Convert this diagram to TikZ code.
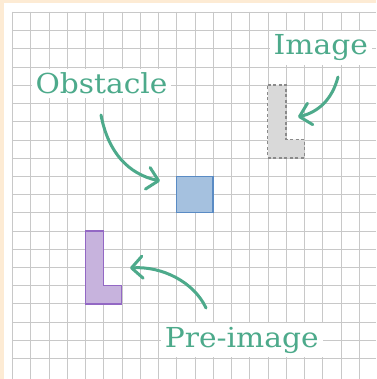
\documentclass[tikz,border=0pt]{standalone}
\usepackage{fontspec}
\setmainfont{DejaVu Serif}
\newfontfamily\lblfont[FakeStretch=1.08]{DejaVu Serif}
\usetikzlibrary{arrows.meta}
\definecolor{peach}{HTML}{FDEBD4}
\definecolor{gridc}{HTML}{C8C8C8}
\definecolor{teal}{HTML}{4DAA8B}
\definecolor{sqfill}{HTML}{A5C1DF}
\definecolor{sqline}{HTML}{5A8BC4}
\definecolor{pfill}{HTML}{C7B3DD}
\definecolor{pline}{HTML}{9368C4}
\definecolor{gfill}{HTML}{D9D9D9}
\definecolor{gline}{HTML}{8A8A8A}
\tikzset{
  lbl/.style={fill=white, text=teal, inner sep=4pt, font=\lblfont\fontsize{27.5}{29}\selectfont, anchor=base},
  callout/.style={draw=teal, line width=3pt, line cap=round, line join=round,
    -{Straight Barb[length=11pt, width=22pt, line cap=round, line join=round]}},
  gridline/.style={gridc, line width=1.5pt},
}
\begin{document}
\begin{tikzpicture}[x=1pt, y=-1pt]
\useasboundingbox (0,0) rectangle (376,379);
\fill[peach] (0,0) rectangle (376,379);
\fill[white] (4,3) rectangle (376,379);
\foreach \g in {12.5,30.5,49.5,67.5,85.5,103.5,122.5,140.5,158.5,176.5,195.5,213.5,231.5,249.5,268.5,286.5,304.5,322.5,341.5,359.5} {
  \draw[gridline] (\g,11.75) -- (\g,379);
}
\foreach \g in {12.5,30.5,48.5,67.5,85.5,103.5,121.5,140.5,158.5,176.5,194.5,212.5,231.5,249.5,267.5,285.5,303.5,322.5,340.5,358.5} {
  \draw[gridline] (11.75,\g) -- (376,\g);
}
\begin{scope}[shift={(12.3,12)}, x=18.25pt, y=-18.25pt]
  % obstacle
  \draw[sqline, fill=sqfill, line width=1.3pt] (9,9) rectangle (11,11);
  % image
  \draw[gline, fill=gfill, line width=1.3pt, dash pattern=on 3pt off 2.5pt]
    (14,4) -- (15,4) -- (15,7) -- (16,7) -- (16,8) -- (14,8) -- cycle;
  % pre-image
  \draw[pline, fill=pfill, line width=1.3pt]
    (4,12) -- (5,12) -- (5,15) -- (6,15) -- (6,16) -- (4,16) -- cycle;
\end{scope}
\node[lbl] (obst) at (101.5,94) {Obstacle};
\node[lbl] (img) at (320.8,55) {Image};
\node[lbl] (pre) at (241.8,347) {Pre-image};
\coordinate (o1) at (101,115);
\coordinate (o2) at (160,181);
\coordinate (i1) at (338,77);
\coordinate (i2) at (298,117);
\coordinate (p1) at (206,308);
\coordinate (p2) at (130,268);
\draw[callout] (o1) .. controls (108,152) and (128,174) .. (o2);
\draw[callout] (i1) .. controls (332,100) and (318,112) .. (i2);
\draw[callout] (p1) .. controls (194,282) and (162,266) .. (p2);
\end{tikzpicture}
\end{document}
